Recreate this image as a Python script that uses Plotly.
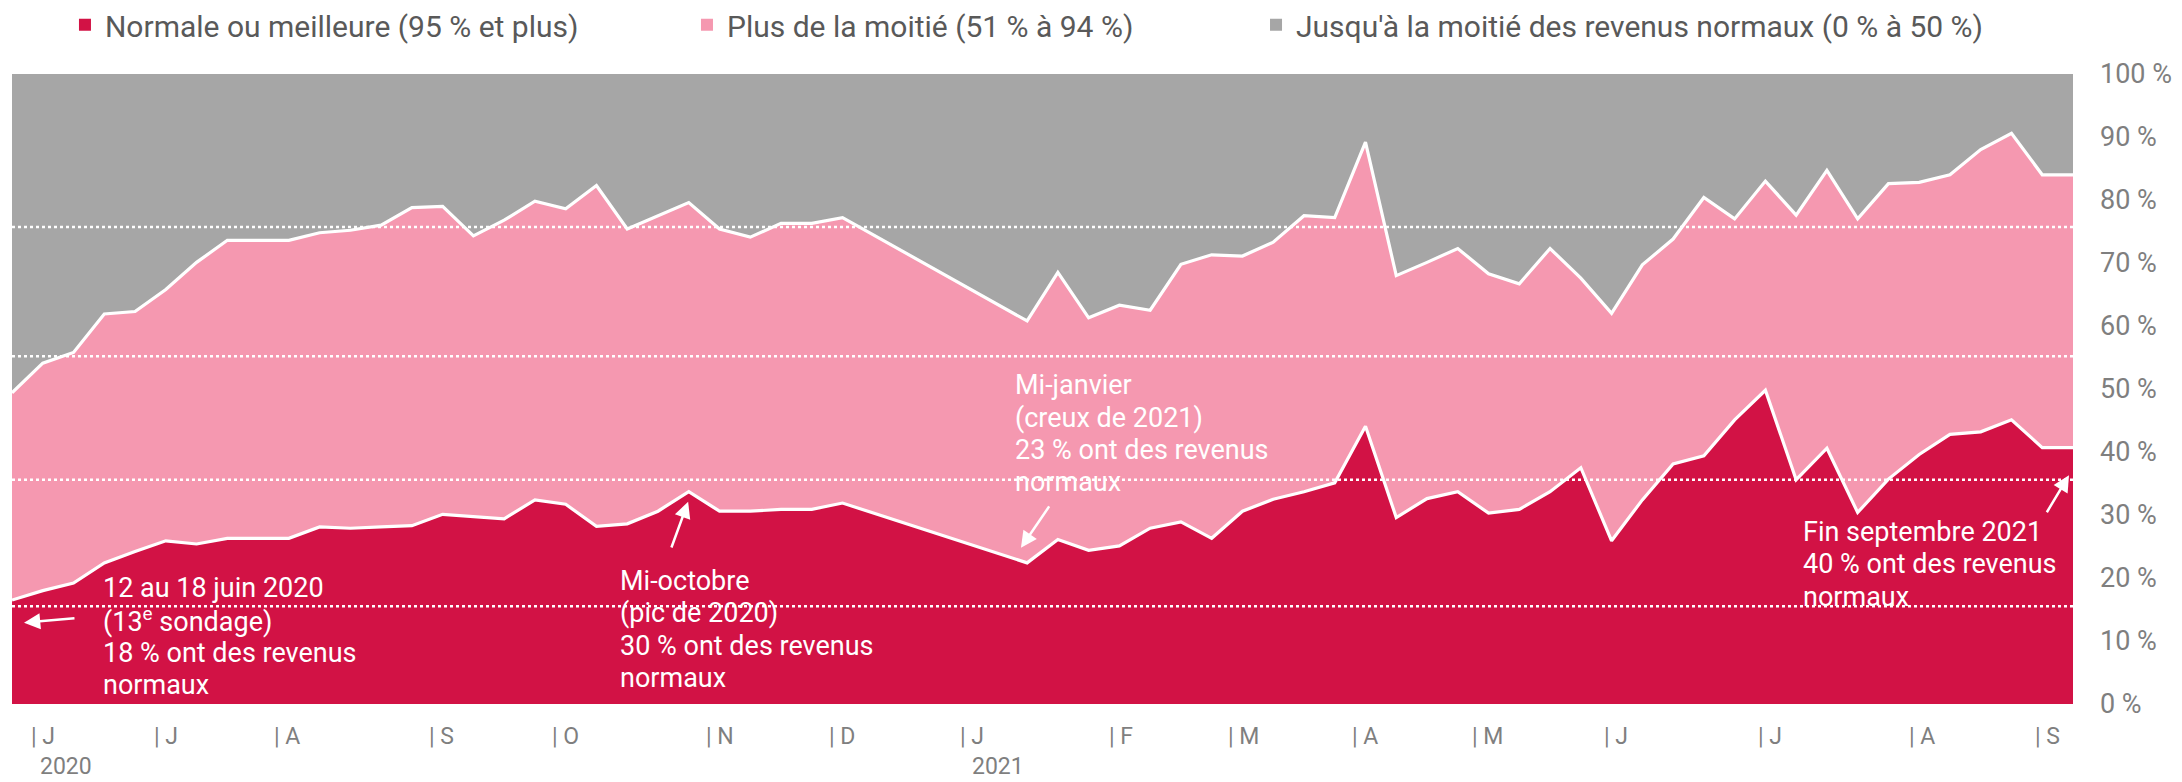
import plotly.graph_objects as go

# Survey index (weekly surveys, starting with the 13th survey, 12-18 June 2020)
survey_idx = list(range(0, 28)) + list(range(33, 68))

# Share of businesses by revenue level (%)
normale = [16.5, 18.0, 19.2, 22.4, 24.2, 25.9, 25.4, 26.3, 26.3, 26.3, 28.1, 27.9, 28.1, 28.3,
           30.1, 29.7, 29.4, 32.4, 31.7, 28.2, 28.6, 30.6, 33.7, 30.6, 30.6, 30.9, 30.9, 31.9,
           22.4, 26.1, 24.4, 25.1, 27.9, 28.9, 26.3, 30.6, 32.5, 33.7, 35.1, 44.1, 29.6, 32.6,
           33.7, 30.3, 30.9, 33.7, 37.5, 25.9, 32.4, 38.1, 39.4, 45.1, 49.8, 35.6, 40.6, 30.4,
           35.7, 39.6, 42.8, 43.2, 45.1, 40.7, 40.7]
plus_moitie = [32.9, 36.1, 36.6, 39.5, 38.1, 39.9, 44.7, 47.3, 47.3, 47.3, 46.7, 47.3, 47.9, 50.5,
               48.9, 44.6, 47.4, 47.4, 46.9, 54.1, 46.8, 46.9, 45.9, 44.8, 43.5, 45.4, 45.4, 45.3,
               38.4, 42.4, 36.9, 38.2, 34.6, 40.9, 45.0, 40.5, 40.8, 43.8, 42.1, 45.1, 38.4, 37.5,
               38.6, 38.0, 35.8, 38.6, 30.1, 36.1, 37.3, 35.7, 41.0, 31.9, 33.2, 42.0, 44.1, 46.6,
               46.9, 43.2, 41.2, 44.8, 45.5, 43.3, 43.3]
jusqu_moitie = [50.6, 45.9, 44.2, 38.1, 37.7, 34.2, 29.9, 26.4, 26.4, 26.4, 25.2, 24.8, 24.0, 21.2,
                21.0, 25.7, 23.2, 20.2, 21.4, 17.7, 24.6, 22.5, 20.4, 24.6, 25.9, 23.7, 23.7, 22.8,
                39.2, 31.5, 38.7, 36.7, 37.5, 30.2, 28.7, 28.9, 26.7, 22.5, 22.8, 10.8, 32.0, 29.9,
                27.7, 31.7, 33.3, 27.7, 32.4, 38.0, 30.3, 26.2, 19.6, 23.0, 17.0, 22.4, 15.3, 23.0,
                17.4, 17.2, 16.0, 12.0, 9.4, 16.0, 16.0]

series_names = ["Normale ou meilleure (95 % et plus)",
                "Plus de la moitié (51 % à 94 %)",
                "Jusqu'à la moitié des revenus normaux (0 % à 50 %)"]

# Month ticks (position in survey index) and labels
month_pos = [0.65, 4.65, 8.55, 13.6, 17.6, 22.6, 26.6, 30.85, 35.7, 39.55, 43.6, 47.5, 51.8, 56.8, 61.7, 65.8]
month_lbl = ["J", "J", "A", "S", "O", "N", "D", "J", "F", "M", "A", "M", "J", "J", "A", "S"]
year_pos = [0.85, 31.15]
year_lbl = ["2020", "2021"]

y_ticks = list(range(0, 101, 10))
guide_levels = [15.5, 35.6, 55.2, 75.7]

RED = "#D21245"
PINK = "#F598B0"
GREY = "#A6A6A6"
TXT = "#7F7F7F"
FONT = "Roboto"

fig = go.Figure()
colors = [RED, PINK, GREY]
for vals, name, col, lw in zip([normale, plus_moitie, jusqu_moitie], series_names, colors, [3.2, 3.2, 0]):
    fig.add_trace(go.Scatter(
        x=survey_idx, y=vals, name=name, stackgroup="one", mode="lines",
        line=dict(color="white", width=lw), fillcolor=col, showlegend=False,
        hoverinfo="skip"))

legend_ids = ["legend", "legend2", "legend3"]
for name, col, lid in zip(series_names, colors, legend_ids):
    fig.add_trace(go.Scatter(
        x=[None], y=[None], mode="markers", name=name,
        marker=dict(symbol="square", size=12, color=col), legend=lid, showlegend=True))

leg_common = dict(orientation="h", yanchor="middle", y=1.078, xanchor="left",
                  font=dict(family=FONT, size=30, color="#595959"),
                  bgcolor="rgba(0,0,0,0)", itemwidth=30)
fig.update_layout(
    legend=dict(x=0.0257, **leg_common),
    legend2=dict(x=0.3275, **leg_common),
    legend3=dict(x=0.6036, **leg_common),
)

for lv in guide_levels:
    fig.add_shape(type="line", xref="paper", x0=0, x1=1, yref="y", y0=lv, y1=lv,
                  line=dict(color="white", width=2.5, dash="3px,3px"), layer="above")

for p, lbl in zip(month_pos, month_lbl):
    fig.add_annotation(x=p, y=-0.052, xref="x", yref="paper", text="| " + lbl,
                       showarrow=False, xanchor="left", yanchor="middle", xshift=-3,
                       font=dict(family=FONT, size=23, color=TXT))
for p, lbl in zip(year_pos, year_lbl):
    fig.add_annotation(x=p, y=-0.1235, xref="x", yref="paper", text=lbl,
                       showarrow=False, xanchor="left", yanchor="bottom",
                       font=dict(family=FONT, size=23, color=TXT))

notes = [
    (2.9, 18.4, ["12 au 18 juin 2020", "(13<sup>e</sup> sondage)", "18 % ont des revenus", "normaux"]),
    (19.7, 19.5, ["Mi-octobre", "(pic de 2020)", "30 % ont des revenus", "normaux"]),
    (32.55, 50.6, ["Mi-janvier", "(creux de 2021)", "23 % ont des revenus", "normaux"]),
    (58.16, 27.3, ["Fin septembre 2021", "40 % ont des revenus", "normaux"]),
]
for nx, ny, lines in notes:
    for k, line in enumerate(lines):
        fig.add_annotation(x=nx, y=ny, xref="x", yref="y", text=line, showarrow=False,
                           xanchor="left", yanchor="middle", align="left", yshift=-32.3 * k,
                           font=dict(family=FONT, size=27, color="white"))

arrows = [
    ((0.39, 12.9), (2.08, 13.65)),
    ((21.98, 32.1), (21.42, 24.6)),
    ((32.8, 24.8), (33.75, 31.6)),
    ((66.87, 36.3), (66.12, 30.2)),
]
for (hx, hy), (tx, ty) in arrows:
    fig.add_annotation(x=hx, y=hy, ax=tx, ay=ty, xref="x", yref="y", axref="x", ayref="y",
                       text="", showarrow=True, arrowhead=2, arrowsize=1.3, arrowwidth=2.5,
                       arrowcolor="white", standoff=0)

fig.update_xaxes(range=[0, 67], showticklabels=False, showgrid=False, zeroline=False,
                 showline=False, ticks="")
fig.update_yaxes(range=[0, 100], side="right", tickvals=y_ticks,
                 ticktext=[f"{v} %" for v in y_ticks], showgrid=False, zeroline=False,
                 showline=False, ticks="", ticklabelstandoff=26,
                 tickfont=dict(family=FONT, size=27, color=TXT))

# The page body keeps the browser's default 8 px margin, so the figure is made
# 8 px smaller and the plot area is placed to land on the reference positions.
fig.update_layout(
    width=2174, height=774,
    margin=dict(l=4, r=109, t=66, b=78, autoexpand=False),
    paper_bgcolor="white", plot_bgcolor="white",
    font=dict(family=FONT),
)

fig.write_html("out.html")
